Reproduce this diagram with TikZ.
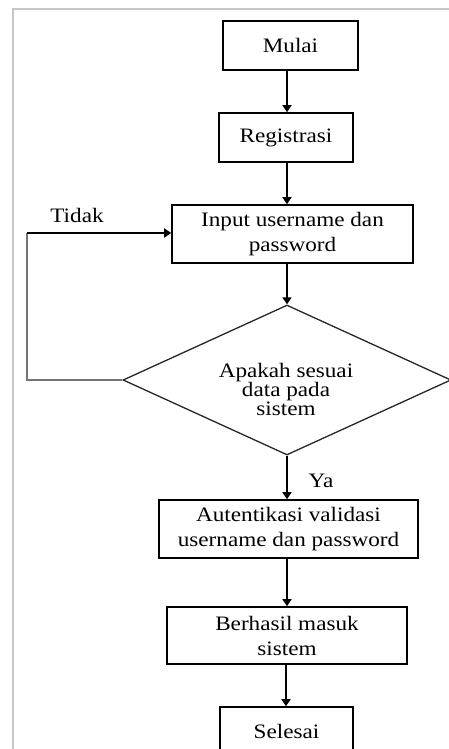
\documentclass[tikz,border=0pt]{standalone}
\usepackage{fontspec}
\setmainfont{Liberation Serif}[FakeStretch=1.13]
\usetikzlibrary{arrows.meta,shapes.geometric}

\tikzset{
  box/.style={draw=black, line width=1.6pt, rectangle, inner sep=0pt,
    align=center, font=\fontsize{20.5}{25}\selectfont},
  decision/.style={draw=black!85, line width=1.3pt, diamond, inner sep=0pt},
  arr/.style={draw=black, line width=1.6pt, -{Triangle[width=9pt,length=7pt]}},
  loopline/.style={draw=black!55, line width=2.4pt},
  lbl/.style={font=\fontsize{20.5}{25}\selectfont, inner sep=0pt, align=center},
}

\begin{document}
\begin{tikzpicture}[x=1pt,y=-1pt]
  \useasboundingbox (0,0) rectangle (449,749);
  \clip (0,0) rectangle (449,749);

  % frame around the figure
  \draw[black!22, line width=1.5pt] (13,749) -- (13,9) -- (449,9);

  % column through which the main flow runs
  \coordinate (ax) at (287,0);

  \node[box, minimum width=135pt, minimum height=49pt] (mulai) at (290.5,45.5) {Mulai};
  \node[box, minimum width=134pt, minimum height=49pt] (reg) at (286,137.5) {Registrasi};
  \node[box, minimum width=241pt, minimum height=58pt] (input) at (292.5,234)
    {Input username dan\\password};
  \node[decision, minimum width=328pt, minimum height=150pt] (cek) at (287,380) {};
  \node[lbl, font=\fontsize{20.5}{19}\selectfont] (cektxt) at (286,389)
    {Apakah sesuai\\data pada\\sistem};
  \node[box, minimum width=259pt, minimum height=58pt] (auth) at (288.5,529)
    {Autentikasi validasi\\username dan password};
  \node[box, minimum width=240pt, minimum height=57pt] (ok) at (287,635.5)
    {Berhasil masuk\\sistem};
  \node[box, minimum width=133pt, minimum height=60pt] (end) at (286.5,737)
    {\raisebox{12pt}{Selesai}};

  % main flow
  \draw[arr] (mulai.south -| ax) -- (reg.north -| ax);
  \draw[arr] (reg.south -| ax) -- (input.north -| ax);
  \draw[arr] (input.south -| cek.north) -- (cek.north);
  \draw[arr] (cek.south) -- (auth.north -| cek.south);
  \draw[arr] (auth.south -| ax) -- (ok.north -| ax);
  \draw[arr] (ok.south -| 286,0) -- (end.north -| 286,0);

  \node[lbl] (ya) at (321,481) {Ya};

  % rejection loop back to the input step
  \coordinate (corner) at (27,233);
  \draw[loopline] (cek.west) -| (corner);
  \draw[arr] (corner) -- (input.west |- corner);
  \node[lbl] (tidak) at (77,215) {Tidak};
\end{tikzpicture}
\end{document}
